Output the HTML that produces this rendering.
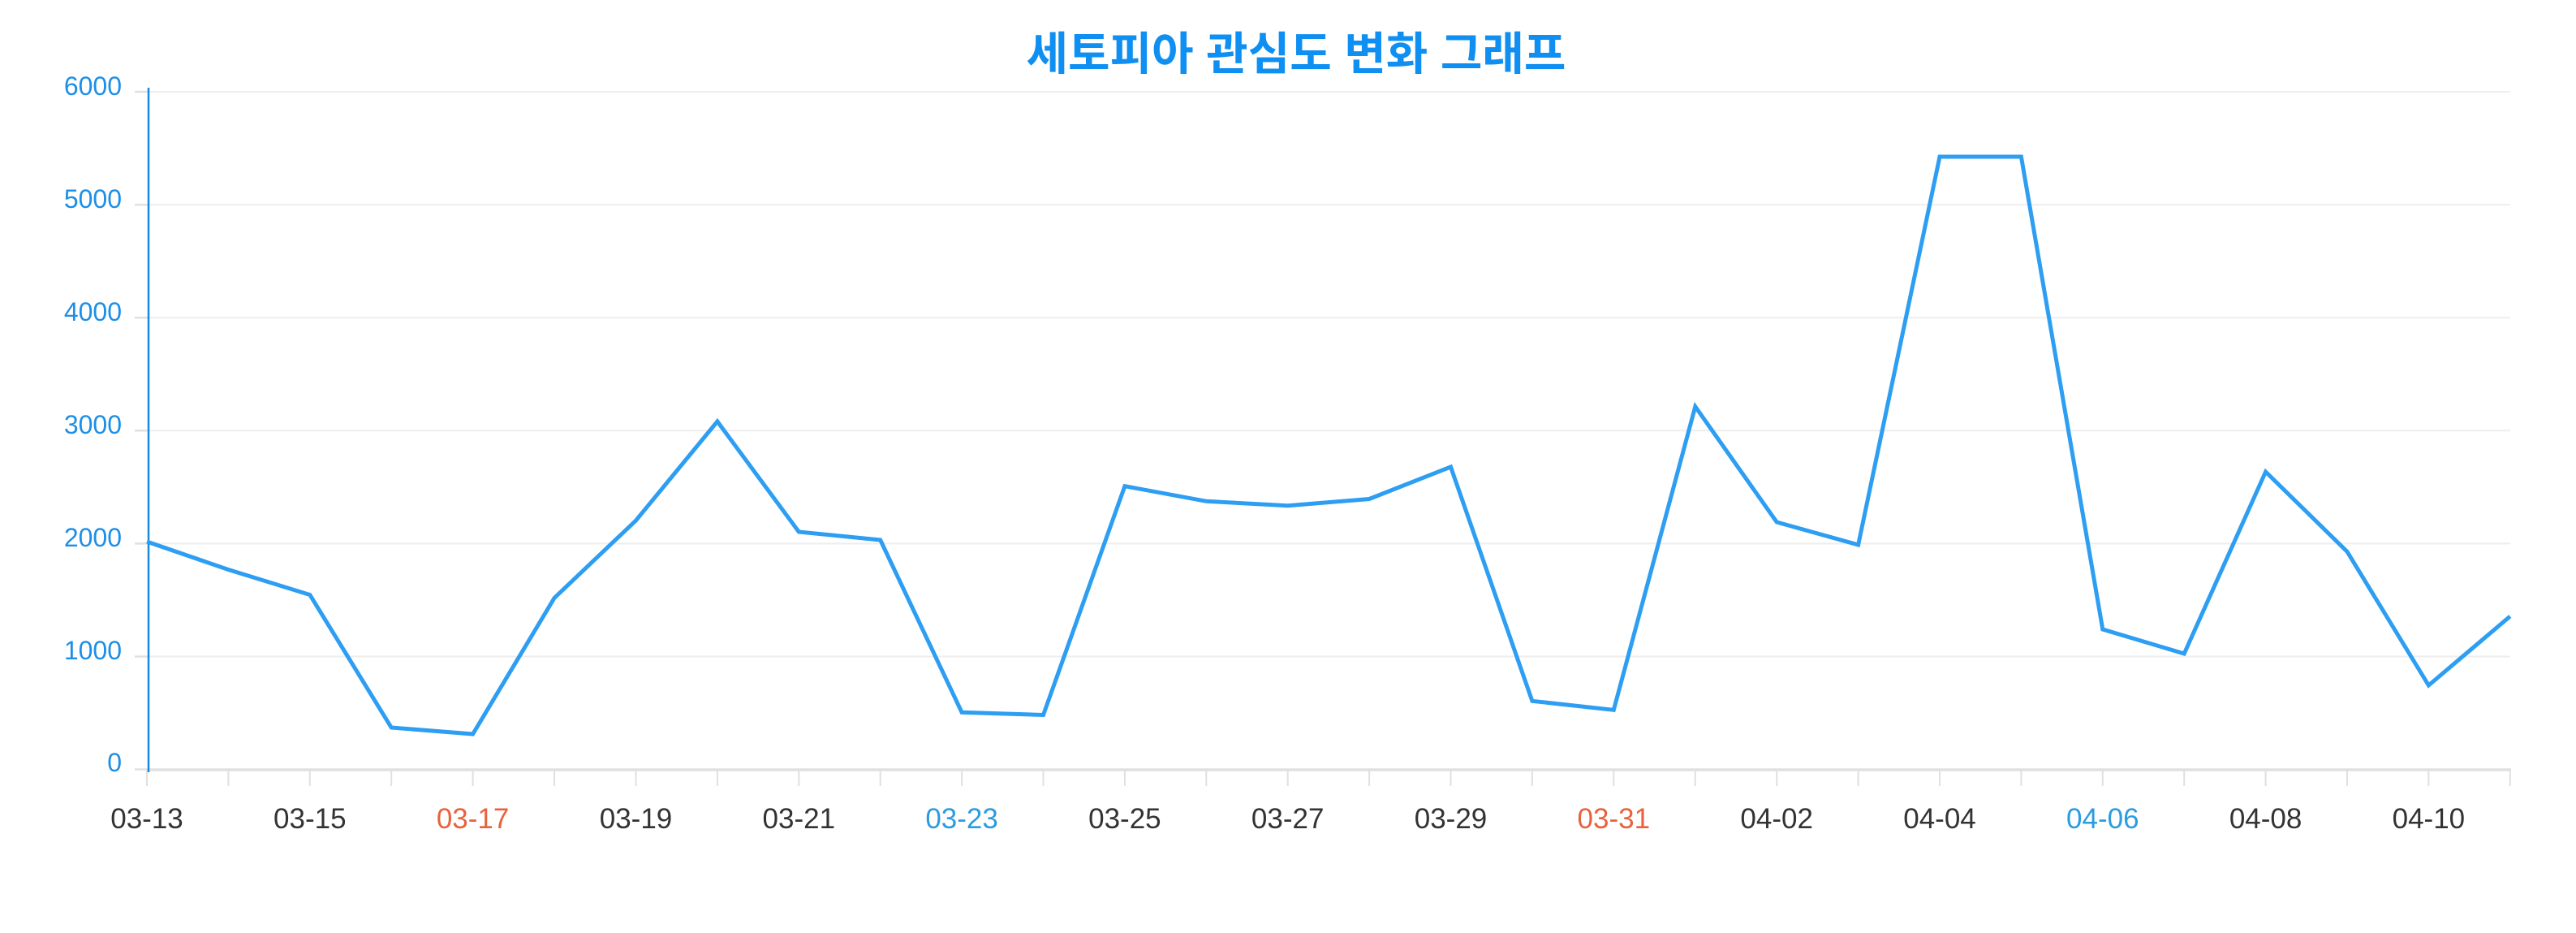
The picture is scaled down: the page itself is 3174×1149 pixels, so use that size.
<!DOCTYPE html>
<html>
<head>
<meta charset="utf-8">
<style>
  html, body { margin: 0; padding: 0; background: #ffffff; }
  body { width: 3174px; height: 1149px; overflow: hidden; }
  svg { display: block; }
  .yl { font-family: "Liberation Sans", "Noto Sans CJK KR", sans-serif; font-size: 32px; fill: #1d8fe6; }
  .xl { font-family: "Liberation Sans", "Noto Sans CJK KR", sans-serif; font-size: 35px; fill: #333333; }
  .red { fill: #e8623e; }
  .blu { fill: #2a9ce0; }
  .title { font-family: "Liberation Sans", "Noto Sans CJK KR", "NanumGothic", sans-serif; font-size: 56px; font-weight: bold; fill: #0f8ff2; }
</style>
</head>
<body>
<svg width="3174" height="1149" viewBox="0 0 3174 1149" xmlns="http://www.w3.org/2000/svg">
  <rect x="0" y="0" width="3174" height="1149" fill="#ffffff"/>

  <!-- Title -->
  <text class="title" x="1597" y="86" text-anchor="middle">세토피아 관심도 변화 그래프</text>

  <!-- Grid lines -->
  <g stroke="#eeeeee" stroke-width="2">
    <line x1="183" y1="113" x2="3093" y2="113"/>
    <line x1="183" y1="252.1" x2="3093" y2="252.1"/>
    <line x1="183" y1="391.2" x2="3093" y2="391.2"/>
    <line x1="183" y1="530.3" x2="3093" y2="530.3"/>
    <line x1="183" y1="669.4" x2="3093" y2="669.4"/>
    <line x1="183" y1="808.5" x2="3093" y2="808.5"/>
  </g>

  <!-- Y-axis ticks (left) -->
  <g stroke="#e0e0e0" stroke-width="2.5">
    <line x1="166" y1="113" x2="183" y2="113"/>
    <line x1="166" y1="252.1" x2="183" y2="252.1"/>
    <line x1="166" y1="391.2" x2="183" y2="391.2"/>
    <line x1="166" y1="530.3" x2="183" y2="530.3"/>
    <line x1="166" y1="669.4" x2="183" y2="669.4"/>
    <line x1="166" y1="808.5" x2="183" y2="808.5"/>
    <line x1="166" y1="947.5" x2="183" y2="947.5"/>
  </g>

  <!-- X axis line -->
  <line x1="180" y1="948" x2="3094" y2="948" stroke="#e0e0e0" stroke-width="3.5"/>

  <!-- X ticks -->
  <g stroke="#e0e0e0" stroke-width="2">
    <line x1="181" y1="948" x2="181" y2="968"/>
    <line x1="281.4" y1="948" x2="281.4" y2="968"/>
    <line x1="381.8" y1="948" x2="381.8" y2="968"/>
    <line x1="482.2" y1="948" x2="482.2" y2="968"/>
    <line x1="582.6" y1="948" x2="582.6" y2="968"/>
    <line x1="683" y1="948" x2="683" y2="968"/>
    <line x1="783.5" y1="948" x2="783.5" y2="968"/>
    <line x1="883.9" y1="948" x2="883.9" y2="968"/>
    <line x1="984.3" y1="948" x2="984.3" y2="968"/>
    <line x1="1084.7" y1="948" x2="1084.7" y2="968"/>
    <line x1="1185.1" y1="948" x2="1185.1" y2="968"/>
    <line x1="1285.5" y1="948" x2="1285.5" y2="968"/>
    <line x1="1385.9" y1="948" x2="1385.9" y2="968"/>
    <line x1="1486.3" y1="948" x2="1486.3" y2="968"/>
    <line x1="1586.7" y1="948" x2="1586.7" y2="968"/>
    <line x1="1687.1" y1="948" x2="1687.1" y2="968"/>
    <line x1="1787.5" y1="948" x2="1787.5" y2="968"/>
    <line x1="1887.9" y1="948" x2="1887.9" y2="968"/>
    <line x1="1988.3" y1="948" x2="1988.3" y2="968"/>
    <line x1="2088.8" y1="948" x2="2088.8" y2="968"/>
    <line x1="2189.2" y1="948" x2="2189.2" y2="968"/>
    <line x1="2289.6" y1="948" x2="2289.6" y2="968"/>
    <line x1="2390" y1="948" x2="2390" y2="968"/>
    <line x1="2490.4" y1="948" x2="2490.4" y2="968"/>
    <line x1="2590.8" y1="948" x2="2590.8" y2="968"/>
    <line x1="2691.2" y1="948" x2="2691.2" y2="968"/>
    <line x1="2791.6" y1="948" x2="2791.6" y2="968"/>
    <line x1="2892" y1="948" x2="2892" y2="968"/>
    <line x1="2992.4" y1="948" x2="2992.4" y2="968"/>
    <line x1="3092.8" y1="948" x2="3092.8" y2="968"/>
  </g>

  <!-- Y axis line (blue) -->
  <line x1="183" y1="108" x2="183" y2="951" stroke="#1a88e0" stroke-width="2.5"/>

  <!-- Y labels -->
  <g class="yl" text-anchor="end">
    <text x="150" y="117">6000</text>
    <text x="150" y="256">5000</text>
    <text x="150" y="395">4000</text>
    <text x="150" y="534">3000</text>
    <text x="150" y="673">2000</text>
    <text x="150" y="812">1000</text>
    <text x="150" y="950">0</text>
  </g>

  <!-- X labels -->
  <g class="xl" text-anchor="middle">
    <text x="181" y="1020">03-13</text>
    <text x="381.8" y="1020">03-15</text>
    <text x="582.6" y="1020" class="red">03-17</text>
    <text x="783.5" y="1020">03-19</text>
    <text x="984.3" y="1020">03-21</text>
    <text x="1185.1" y="1020" class="blu">03-23</text>
    <text x="1385.9" y="1020">03-25</text>
    <text x="1586.7" y="1020">03-27</text>
    <text x="1787.5" y="1020">03-29</text>
    <text x="1988.3" y="1020" class="red">03-31</text>
    <text x="2189.2" y="1020">04-02</text>
    <text x="2390" y="1020">04-04</text>
    <text x="2590.8" y="1020" class="blu">04-06</text>
    <text x="2791.6" y="1020">04-08</text>
    <text x="2992.4" y="1020">04-10</text>
  </g>

  <!-- Series line -->
  <polyline fill="none" stroke="#2d9ef2" stroke-width="5" stroke-linejoin="miter" stroke-miterlimit="10"
    points="181,667 281.4,701.5 381.8,732.5 482.2,896 582.6,904 683,736.5 783.5,641 883.9,519 984.3,655 1084.7,665 1185.1,877.3 1285.5,880.5 1385.9,598.7 1486.3,617.3 1586.7,622.7 1687.1,614.5 1787.5,575 1887.9,863.3 1988.3,874.3 2088.8,500.7 2189.2,643 2289.6,671 2390,193 2490.4,193 2590.8,775 2691.2,805 2791.6,581 2892,679.3 2992.4,844 3092.8,759"/>
</svg>
</body>
</html>
